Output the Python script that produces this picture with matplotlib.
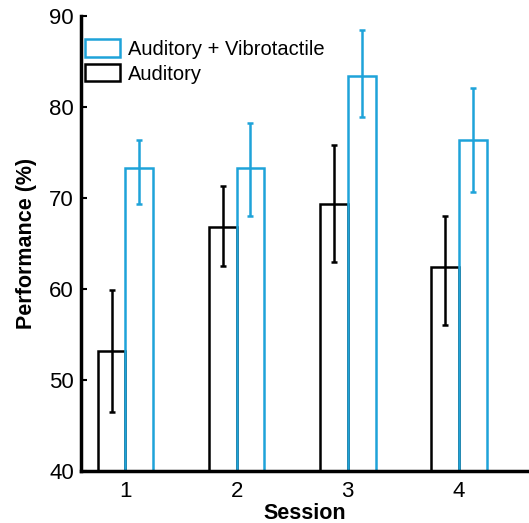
import matplotlib
matplotlib.use("Agg")
import matplotlib.pyplot as plt
import numpy as np

sessions = [1, 2, 3, 4]
aud_mean = [53.2, 66.8, 69.4, 62.4]
aud_lo = [46.5, 62.5, 63.0, 56.1]
aud_hi = [59.9, 71.3, 75.8, 68.1]
av_mean = [73.3, 73.3, 83.4, 76.4]
av_lo = [69.4, 68.1, 78.9, 70.7]
av_hi = [76.4, 78.3, 88.5, 82.1]

BLUE = "#1ea3d9"
plt.rcParams.update({"font.family": "Liberation Sans", "font.size": 13})

fig = plt.figure(figsize=(5.29, 5.23), dpi=100)
ax = fig.add_axes([0.153, 0.099, 0.847, 0.870])

x = np.array(sessions)
w = 0.25
xa = x - w / 2
xv = x + w / 2
am, vm = np.array(aud_mean), np.array(av_mean)
ax.bar(xa, am - 40, w, bottom=40, facecolor="none", edgecolor="black", lw=1.8,
       label="Auditory", zorder=2)
ax.bar(xv, vm - 40, w, bottom=40, facecolor="none", edgecolor=BLUE, lw=1.8,
       label="Auditory + Vibrotactile", zorder=2)
ax.errorbar(xa, am, yerr=[am - np.array(aud_lo), np.array(aud_hi) - am], fmt="none",
            ecolor="black", elinewidth=1.8, capsize=2.5, capthick=1.8, zorder=3)
ax.errorbar(xv, vm, yerr=[vm - np.array(av_lo), np.array(av_hi) - vm], fmt="none",
            ecolor=BLUE, elinewidth=1.8, capsize=2.5, capthick=1.8, zorder=3)

ax.set_xlim(0.6, 4.63)
ax.set_ylim(40, 90)
ax.set_yticks([40, 50, 60, 70, 80, 90])
ax.set_xticks(sessions)
ax.tick_params(axis="y", direction="in", length=4, width=1.5, labelsize=16, pad=5)
ax.tick_params(axis="x", length=0, labelsize=16, pad=7)
for s in ("top", "right"):
    ax.spines[s].set_visible(False)
for s in ("left", "bottom"):
    ax.spines[s].set_linewidth(2.5)
ax.set_xlabel("Session", fontweight="bold", fontsize=15.5, labelpad=1)
ax.set_ylabel("Performance (%)", fontweight="bold", fontsize=15.5, labelpad=9)

h, l = ax.get_legend_handles_labels()
ax.legend(h[::-1], l[::-1], loc="upper left", bbox_to_anchor=(0.008, 0.949), frameon=False,
          fontsize=14.5, handlelength=1.75, handleheight=0.95, handletextpad=0.4,
          labelspacing=0.25, borderaxespad=0.0, borderpad=0.0)

fig.savefig("out.png", dpi=100)
